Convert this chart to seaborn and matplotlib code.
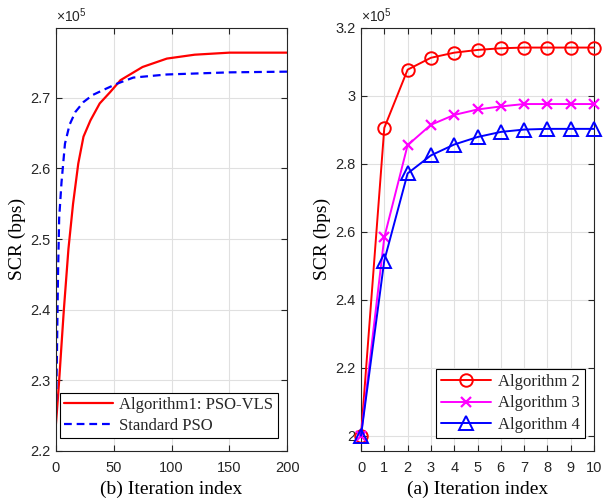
import matplotlib
matplotlib.use("Agg")
import matplotlib.pyplot as plt
import seaborn as sns
import pandas as pd
from matplotlib.ticker import FuncFormatter

sns.set_theme(style="white")
plt.rcParams['font.family'] = ['Liberation Sans', 'DejaVu Sans']
plt.rcParams['mathtext.fontset'] = 'custom'
plt.rcParams['mathtext.rm'] = 'Liberation Sans'

# ---- Left panel data (b) ----
iter_vls = [0, 1, 3, 5, 7, 11, 15, 19.5, 24, 30, 38, 47, 56, 75, 96, 120, 150, 200]
scr_vls = [223400, 225500, 230000, 235000, 239900, 248600, 255000, 260700, 264500,
           266800, 269200, 270800, 272500, 274360, 275550, 276100, 276390, 276390]
iter_pso = [0, 1, 2, 3, 5, 8, 12, 17, 24, 32, 41, 53, 67, 96, 150, 200]
scr_pso = [223400, 233000, 245000, 253000, 258000, 263500, 266200, 268000, 269400,
           270400, 271100, 272000, 272860, 273300, 273600, 273700]
left_labels = ["Algorithm1: PSO-VLS", "Standard PSO"]

# ---- Right panel data (a) ----
iters = [0, 1, 2, 3, 4, 5, 6, 7, 8, 9, 10]
alg2 = [200000, 290500, 307600, 311100, 312600, 313400, 313900, 314100, 314100, 314100, 314100]
alg3 = [200000, 258300, 285400, 291400, 294300, 295900, 296800, 297500, 297500, 297500, 297500]
alg4 = [200000, 251500, 277100, 282400, 285600, 287800, 289300, 290000, 290200, 290200, 290200]
right_labels = ["Algorithm 2", "Algorithm 3", "Algorithm 4"]

fig = plt.figure(figsize=(6.03, 5.0), dpi=100)
axL = fig.add_axes([55.7/603, 1-451/500, (287.3-55.7)/603, (451-27.5)/500])
axR = fig.add_axes([361/603, 1-451/500, (594-361)/603, (451-27.5)/500])

dfL1 = pd.DataFrame({"x": iter_vls, "y": scr_vls})
dfL2 = pd.DataFrame({"x": iter_pso, "y": scr_pso})
sns.lineplot(data=dfL1, x="x", y="y", ax=axL, color=(1, 0, 0), lw=1.6,
             label=left_labels[0], sort=False)
sns.lineplot(data=dfL2, x="x", y="y", ax=axL, color=(0, 0, 1), lw=1.6,
             label=left_labels[1], sort=False, dashes=False)
axL.lines[1].set_linestyle((0, (3.5, 2.2)))

dfR = pd.DataFrame({"x": iters, "a2": alg2, "a3": alg3, "a4": alg4})
sns.lineplot(data=dfR, x="x", y="a2", ax=axR, color=(1, 0, 0), lw=1.4,
             marker="o", markersize=9, markerfacecolor="none",
             markeredgecolor=(1, 0, 0), markeredgewidth=1.4, label=right_labels[0],
             clip_on=False, zorder=3)
sns.lineplot(data=dfR, x="x", y="a3", ax=axR, color=(1, 0, 1), lw=1.4,
             marker="x", markersize=7, markeredgecolor=(1, 0, 1),
             markeredgewidth=1.6, label=right_labels[1], clip_on=False, zorder=3)
sns.lineplot(data=dfR, x="x", y="a4", ax=axR, color=(0, 0, 1), lw=1.4,
             marker="^", markersize=10, markerfacecolor="none",
             markeredgecolor=(0, 0, 1), markeredgewidth=1.4, label=right_labels[2],
             clip_on=False, zorder=3)

axL.set_xlim(0, 200)
axL.set_ylim(220000, 279950)
axL.set_xticks([0, 50, 100, 150, 200])
axL.set_yticks([220000, 230000, 240000, 250000, 260000, 270000])
axR.set_xlim(0, 10)
axR.set_ylim(195500, 320000)
axR.set_xticks(iters)
axR.set_yticks([200000, 220000, 240000, 260000, 280000, 300000, 320000])

fmt = FuncFormatter(lambda v, p: "%g" % round(v / 1e5, 3))
dark = (0.15, 0.15, 0.15)
serif = ['Liberation Serif', 'DejaVu Serif']
for ax, xl in ((axL, "(b) Iteration index"), (axR, "(a) Iteration index")):
    ax.yaxis.set_major_formatter(fmt)
    ax.grid(True, color=(0.88, 0.88, 0.88), lw=0.8)
    ax.set_axisbelow(True)
    ax.tick_params(direction="in", length=4, width=0.8, colors=dark, labelsize=10.5,
                   top=True, right=True, bottom=True, left=True)
    ax.tick_params(axis="x", pad=7)
    ax.tick_params(axis="y", pad=4)
    for s in ax.spines.values():
        s.set_color(dark)
        s.set_linewidth(0.8)
        s.set_visible(True)
    ax.set_xlabel(xl, family=serif, fontsize=14, color="black", labelpad=4)
    ax.set_ylabel("SCR (bps)", family=serif, fontsize=14, color="black", labelpad=3)
    ax.text(0.0, 1.005, r"$\times\mathregular{10^{5}}$", transform=ax.transAxes,
            ha="left", va="bottom", fontsize=10, color=dark)

legL = axL.legend(loc="lower left", bbox_to_anchor=(0.02, 0.03), prop={'family': serif, 'size': 12},
                  frameon=True, fancybox=False, edgecolor="black", framealpha=1,
                  handlelength=2.9, borderpad=0.25, labelspacing=0.3, handletextpad=0.4,
                  borderaxespad=0)
legL.get_frame().set_linewidth(0.8)
legR = axR.legend(loc="lower right", bbox_to_anchor=(0.96, 0.03), prop={'family': serif, 'size': 12},
                  frameon=True, fancybox=False, edgecolor="black", framealpha=1,
                  handlelength=3.0, borderpad=0.3, labelspacing=0.35, handletextpad=0.4,
                  borderaxespad=0)
legR.get_frame().set_linewidth(0.8)

fig.savefig("out.png", dpi=100)
